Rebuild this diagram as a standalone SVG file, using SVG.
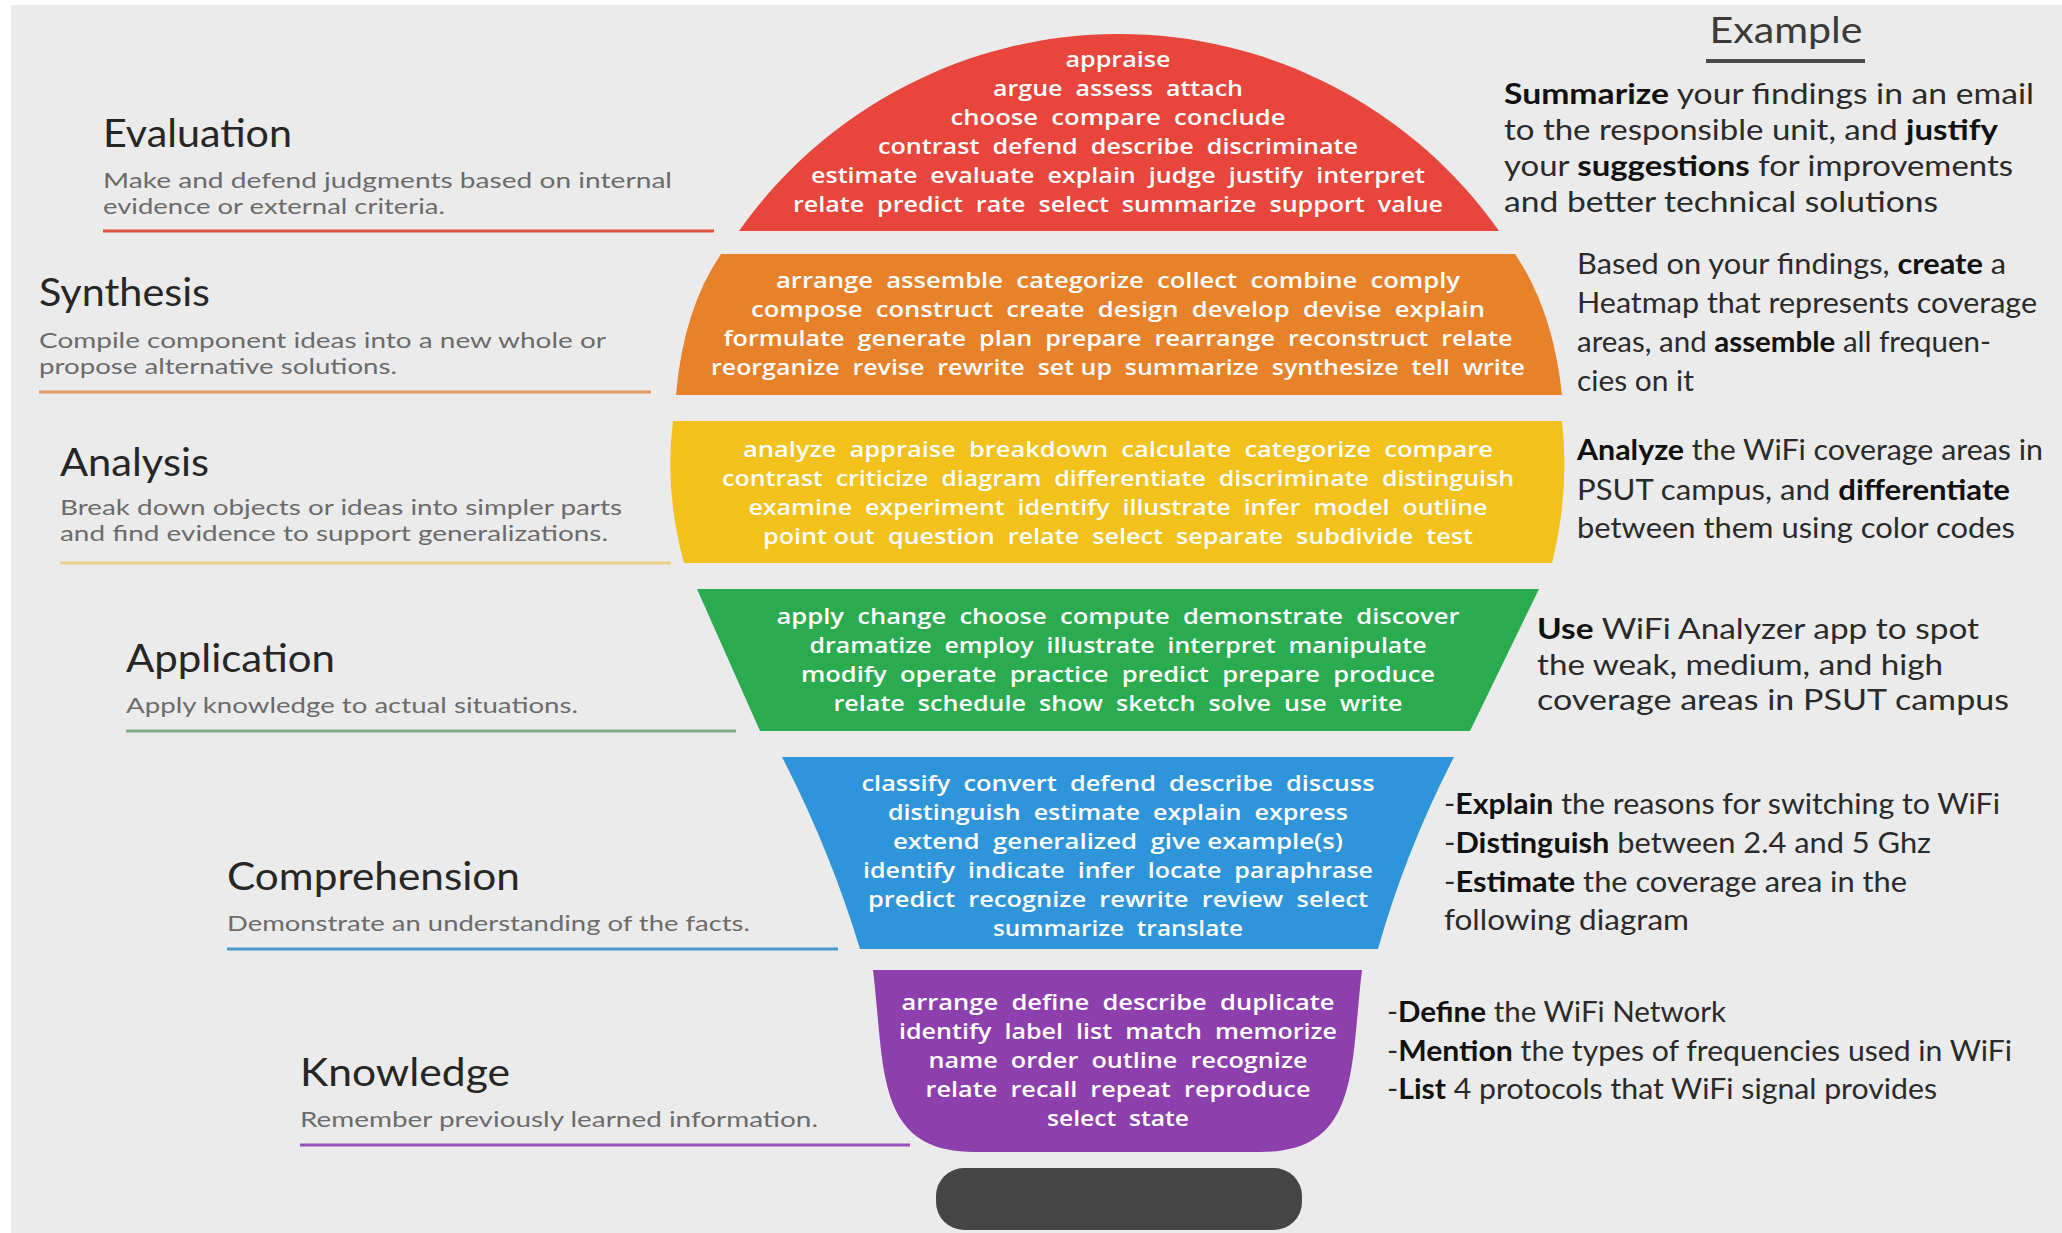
<svg xmlns="http://www.w3.org/2000/svg" width="2062" height="1233" viewBox="0 0 2062 1233">
<style>
.w{font-family:"Open Sans","Liberation Sans",sans-serif;font-size:22px;font-weight:600;fill:#fff;text-anchor:middle;white-space:pre}
.t{font-family:Lato,"Liberation Sans",sans-serif;font-size:39px;fill:#262626}
.d{font-family:Lato,"Liberation Sans",sans-serif;font-size:22px;fill:#6b6b6b}
.e{font-family:Lato,"Liberation Sans",sans-serif;font-size:28px;fill:#2a2a2a}
.b{font-weight:700;fill:#111}
.u{stroke-width:3;fill:none}
</style>
<rect width="2062" height="1233" fill="#fff"/>
<rect x="11" y="5" width="2051" height="1228" fill="#ebebeb"/>

<g id="heading">
<text x="1786" y="43" text-anchor="middle" style="font-family:Lato,'Liberation Sans',sans-serif;font-size:37px;fill:#3a3a3a" textLength="153" lengthAdjust="spacingAndGlyphs">Example</text>
<line x1="1706" y1="61" x2="1865" y2="61" stroke="#4a4a4a" stroke-width="4"/>
</g>

<g id="evaluation">
<path d="M739,231 A465,465 0 0 1 1499,231 Z" fill="#e8453c"/>
<text class="w" x="1118" y="67" textLength="105" lengthAdjust="spacingAndGlyphs">appraise</text>
<text class="w" x="1118" y="96" textLength="250" lengthAdjust="spacingAndGlyphs">argue  assess  attach</text>
<text class="w" x="1118" y="125" textLength="335" lengthAdjust="spacingAndGlyphs">choose  compare  conclude</text>
<text class="w" x="1118" y="154" textLength="480" lengthAdjust="spacingAndGlyphs">contrast  defend  describe  discriminate</text>
<text class="w" x="1118" y="183" textLength="614" lengthAdjust="spacingAndGlyphs">estimate  evaluate  explain  judge  justify  interpret</text>
<text class="w" x="1118" y="212" textLength="650" lengthAdjust="spacingAndGlyphs">relate  predict  rate  select  summarize  support  value</text>
<text class="t" x="103" y="147" textLength="189" lengthAdjust="spacingAndGlyphs">Evaluation</text>
<text class="d" x="103" y="188" textLength="569" lengthAdjust="spacingAndGlyphs">Make and defend judgments based on internal</text>
<text class="d" x="103" y="214" textLength="342" lengthAdjust="spacingAndGlyphs">evidence or external criteria.</text>
<text class="e" x="1504" y="104" textLength="530" lengthAdjust="spacingAndGlyphs"><tspan class="b">Summarize</tspan> your findings in an email</text>
<text class="e" x="1504" y="140" textLength="494" lengthAdjust="spacingAndGlyphs">to the responsible unit, and <tspan class="b">justify</tspan></text>
<text class="e" x="1504" y="176" textLength="509" lengthAdjust="spacingAndGlyphs">your <tspan class="b">suggestions</tspan> for improvements</text>
<text class="e" x="1504" y="212" textLength="434" lengthAdjust="spacingAndGlyphs">and better technical solutions</text>
</g>

<g id="synthesis">
<path d="M721,254 L1515,254 Q1553,310 1562,395 L676,395 Q683,310 721,254 Z" fill="#e8822a"/>
<text class="w" x="1118" y="288" textLength="684" lengthAdjust="spacingAndGlyphs">arrange  assemble  categorize  collect  combine  comply</text>
<text class="w" x="1118" y="317" textLength="734" lengthAdjust="spacingAndGlyphs">compose  construct  create  design  develop  devise  explain</text>
<text class="w" x="1118" y="346" textLength="789" lengthAdjust="spacingAndGlyphs">formulate  generate  plan  prepare  rearrange  reconstruct  relate</text>
<text class="w" x="1118" y="375" textLength="814" lengthAdjust="spacingAndGlyphs">reorganize  revise  rewrite  set up  summarize  synthesize  tell  write</text>
<text class="t" x="39" y="306" textLength="171" lengthAdjust="spacingAndGlyphs">Synthesis</text>
<text class="d" x="39" y="348" textLength="567" lengthAdjust="spacingAndGlyphs">Compile component ideas into a new whole or</text>
<text class="d" x="39" y="374" textLength="358" lengthAdjust="spacingAndGlyphs">propose alternative solutions.</text>
<text class="e" x="1577" y="274" textLength="429" lengthAdjust="spacingAndGlyphs">Based on your findings, <tspan class="b">create</tspan> a</text>
<text class="e" x="1577" y="313" textLength="460" lengthAdjust="spacingAndGlyphs">Heatmap that represents coverage</text>
<text class="e" x="1577" y="352" textLength="414" lengthAdjust="spacingAndGlyphs">areas, and <tspan class="b">assemble</tspan> all frequen-</text>
<text class="e" x="1577" y="391" textLength="117" lengthAdjust="spacingAndGlyphs">cies on it</text>
</g>

<g id="analysis">
<path d="M673,421 L1562,421 Q1570,490 1552,563 L684,563 Q664,490 673,421 Z" fill="#f2c11c"/>
<text class="w" x="1118" y="457" textLength="750" lengthAdjust="spacingAndGlyphs">analyze  appraise  breakdown  calculate  categorize  compare</text>
<text class="w" x="1118" y="486" textLength="792" lengthAdjust="spacingAndGlyphs">contrast  criticize  diagram  differentiate  discriminate  distinguish</text>
<text class="w" x="1118" y="515" textLength="739" lengthAdjust="spacingAndGlyphs">examine  experiment  identify  illustrate  infer  model  outline</text>
<text class="w" x="1118" y="544" textLength="710" lengthAdjust="spacingAndGlyphs">point out  question  relate  select  separate  subdivide  test</text>
<text class="t" x="60" y="476" textLength="149" lengthAdjust="spacingAndGlyphs">Analysis</text>
<text class="d" x="60" y="515" textLength="562" lengthAdjust="spacingAndGlyphs">Break down objects or ideas into simpler parts</text>
<text class="d" x="60" y="541" textLength="548" lengthAdjust="spacingAndGlyphs">and find evidence to support generalizations.</text>
<text class="e" x="1577" y="460" textLength="466" lengthAdjust="spacingAndGlyphs"><tspan class="b">Analyze</tspan> the WiFi coverage areas in</text>
<text class="e" x="1577" y="500" textLength="433" lengthAdjust="spacingAndGlyphs">PSUT campus, and <tspan class="b">differentiate</tspan></text>
<text class="e" x="1577" y="538" textLength="438" lengthAdjust="spacingAndGlyphs">between them using color codes</text>
</g>

<g id="application">
<path d="M697,589 L1539,589 L1470,731 L760,731 Z" fill="#2aab4f"/>
<text class="w" x="1118" y="624" textLength="683" lengthAdjust="spacingAndGlyphs">apply  change  choose  compute  demonstrate  discover</text>
<text class="w" x="1118" y="653" textLength="617" lengthAdjust="spacingAndGlyphs">dramatize  employ  illustrate  interpret  manipulate</text>
<text class="w" x="1118" y="682" textLength="634" lengthAdjust="spacingAndGlyphs">modify  operate  practice  predict  prepare  produce</text>
<text class="w" x="1118" y="711" textLength="569" lengthAdjust="spacingAndGlyphs">relate  schedule  show  sketch  solve  use  write</text>
<text class="t" x="126" y="672" textLength="209" lengthAdjust="spacingAndGlyphs">Application</text>
<text class="d" x="126" y="713" textLength="452" lengthAdjust="spacingAndGlyphs">Apply knowledge to actual situations.</text>
<text class="e" x="1537" y="639" textLength="442" lengthAdjust="spacingAndGlyphs"><tspan class="b">Use</tspan> WiFi Analyzer app to spot</text>
<text class="e" x="1537" y="675" textLength="406" lengthAdjust="spacingAndGlyphs">the weak, medium, and high</text>
<text class="e" x="1537" y="710" textLength="472" lengthAdjust="spacingAndGlyphs">coverage areas in PSUT campus</text>
</g>

<g id="comprehension">
<path d="M782,757 L1454,757 Q1406,850 1378,949 L860,949 Q830,850 782,757 Z" fill="#2f95db"/>
<text class="w" x="1118" y="791" textLength="513" lengthAdjust="spacingAndGlyphs">classify  convert  defend  describe  discuss</text>
<text class="w" x="1118" y="820" textLength="460" lengthAdjust="spacingAndGlyphs">distinguish  estimate  explain  express</text>
<text class="w" x="1118" y="849" textLength="450" lengthAdjust="spacingAndGlyphs">extend  generalized  give example(s)</text>
<text class="w" x="1118" y="878" textLength="510" lengthAdjust="spacingAndGlyphs">identify  indicate  infer  locate  paraphrase</text>
<text class="w" x="1118" y="907" textLength="500" lengthAdjust="spacingAndGlyphs">predict  recognize  rewrite  review  select</text>
<text class="w" x="1118" y="936" textLength="250" lengthAdjust="spacingAndGlyphs">summarize  translate</text>
<text class="t" x="227" y="890" textLength="293" lengthAdjust="spacingAndGlyphs">Comprehension</text>
<text class="d" x="227" y="931" textLength="523" lengthAdjust="spacingAndGlyphs">Demonstrate an understanding of the facts.</text>
<text class="e" x="1444" y="814" textLength="556" lengthAdjust="spacingAndGlyphs">-<tspan class="b">Explain</tspan> the reasons for switching to WiFi</text>
<text class="e" x="1444" y="853" textLength="487" lengthAdjust="spacingAndGlyphs">-<tspan class="b">Distinguish</tspan> between 2.4 and 5 Ghz</text>
<text class="e" x="1444" y="892" textLength="463" lengthAdjust="spacingAndGlyphs">-<tspan class="b">Estimate</tspan> the coverage area in the</text>
<text class="e" x="1444" y="930" textLength="245" lengthAdjust="spacingAndGlyphs">following diagram</text>
</g>

<g id="knowledge">
<path d="M873,970 L1362,970 C1350,1070 1360,1152 1260,1152 L975,1152 C875,1152 885,1070 873,970 Z" fill="#8e3fae"/>
<text class="w" x="1118" y="1010" textLength="433" lengthAdjust="spacingAndGlyphs">arrange  define  describe  duplicate</text>
<text class="w" x="1118" y="1039" textLength="438" lengthAdjust="spacingAndGlyphs">identify  label  list  match  memorize</text>
<text class="w" x="1118" y="1068" textLength="379" lengthAdjust="spacingAndGlyphs">name  order  outline  recognize</text>
<text class="w" x="1118" y="1097" textLength="385" lengthAdjust="spacingAndGlyphs">relate  recall  repeat  reproduce</text>
<text class="w" x="1118" y="1126" textLength="142" lengthAdjust="spacingAndGlyphs">select  state</text>
<text class="t" x="300" y="1086" textLength="210" lengthAdjust="spacingAndGlyphs">Knowledge</text>
<text class="d" x="300" y="1127" textLength="518" lengthAdjust="spacingAndGlyphs">Remember previously learned information.</text>
<text class="e" x="1387" y="1022" textLength="339" lengthAdjust="spacingAndGlyphs">-<tspan class="b">Define</tspan> the WiFi Network</text>
<text class="e" x="1387" y="1061" textLength="625" lengthAdjust="spacingAndGlyphs">-<tspan class="b">Mention</tspan> the types of frequencies used in WiFi</text>
<text class="e" x="1387" y="1099" textLength="550" lengthAdjust="spacingAndGlyphs">-<tspan class="b">List</tspan> 4 protocols that WiFi signal provides</text>
</g>

<g id="base">
<rect x="936" y="1168" width="366" height="62" rx="28" fill="#454545"/>
</g>

<g id="connectors">
<line class="u" x1="103" y1="231" x2="714" y2="231" stroke="#e0523f"/>
<line class="u" x1="39" y1="392" x2="651" y2="392" stroke="#e59b68"/>
<line class="u" x1="60" y1="563" x2="671" y2="563" stroke="#e8cf8c"/>
<line class="u" x1="126" y1="731" x2="736" y2="731" stroke="#7daf88"/>
<line class="u" x1="227" y1="949" x2="838" y2="949" stroke="#4a99d2"/>
<line class="u" x1="300" y1="1145" x2="910" y2="1145" stroke="#9a50bf"/>
</g>
</svg>
